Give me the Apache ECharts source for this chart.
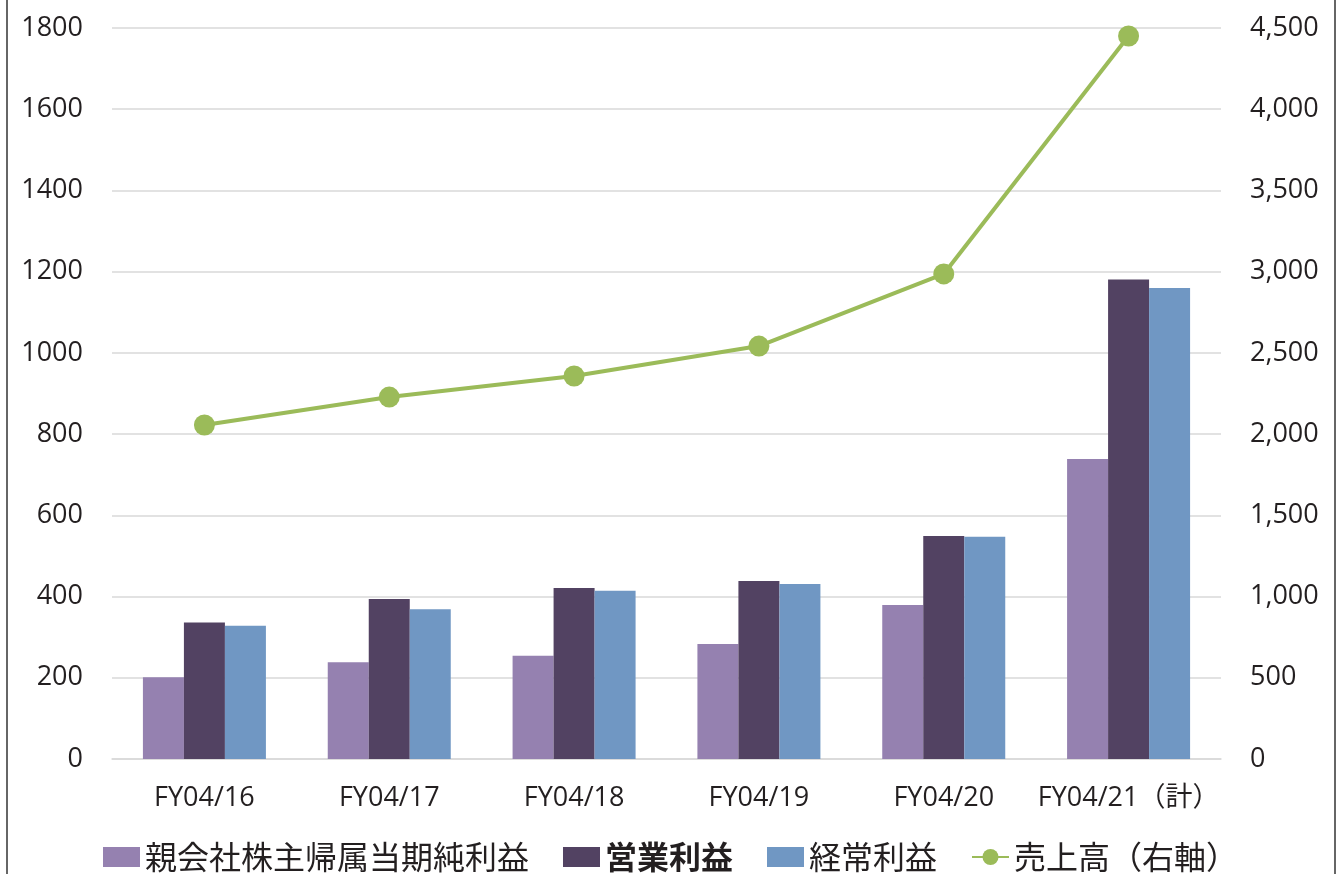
<!DOCTYPE html>
<html><head><meta charset="utf-8">
<script src="https://cdn.jsdelivr.net/npm/echarts@6/dist/echarts.min.js"></script>
<style>html,body{margin:0;padding:0;background:#fff}#c{width:1341px;height:874px}</style>
</head><body><div id="c"></div>
<script>
const categories = ['FY04/16','FY04/17','FY04/18','FY04/19','FY04/20','FY04/21（計）'];
const netIncome = [201, 238, 254, 283, 379, 739];
const operatingProfit = [336, 394, 421, 438, 549, 1181];
const ordinaryProfit = [328, 369, 414, 431, 547, 1160];
const sales = [2056, 2228, 2358, 2542, 2986, 4451];
const leftTicks = [0, 1800, 200];
const rightTicks = [0, 4500, 500];
const names = ['親会社株主帰属当期純利益','営業利益','経常利益','売上高（右軸）'];

const font = '"Open Sans", "Noto Sans CJK JP", sans-serif';
const cjk = '"Noto Sans CJK JP", sans-serif';
const chart = echarts.init(document.getElementById('c'));
chart.setOption({
  animation: false,
  backgroundColor: '#fff',
  grid: {left: 112, right: 120, top: 28, bottom: 115, containLabel: false},
  legend: {
    bottom: -4, left: 'center', itemGap: 34, itemWidth: 37, itemHeight: 20,
    textStyle: {fontFamily: cjk, fontSize: 32, color: '#231f20'},
    data: [
      {name: names[0], icon: 'rect'},
      {name: names[1], icon: 'rect', textStyle: {fontWeight: 'bold'}},
      {name: names[2], icon: 'rect'},
      {name: names[3]}
    ]
  },
  xAxis: {
    type: 'category', data: categories,
    axisLine: {show: true, lineStyle: {color: '#d9d9d9', width: 1.5}},
    axisTick: {show: false},
    axisLabel: {fontFamily: font, fontSize: 27, color: '#231f20', margin: 26, interval: 0}
  },
  yAxis: [
    {type: 'value', min: leftTicks[0], max: leftTicks[1], interval: leftTicks[2],
     axisLine: {show: false}, axisTick: {show: false},
     splitLine: {lineStyle: {color: '#d9d9d9', width: 1.5}},
     axisLabel: {fontFamily: font, fontSize: 27, color: '#231f20', margin: 29,
       formatter: v => String(v)}},
    {type: 'value', min: rightTicks[0], max: rightTicks[1], interval: rightTicks[2],
     axisLine: {show: false}, axisTick: {show: false}, splitLine: {show: false},
     axisLabel: {fontFamily: font, fontSize: 27, color: '#231f20', margin: 29,
       formatter: v => v.toLocaleString('en-US')}}
  ],
  series: [
    {name: names[0], type: 'bar', data: netIncome, barWidth: 41, barGap: '0%',
     itemStyle: {color: '#9581b0'}},
    {name: names[1], type: 'bar', data: operatingProfit, barWidth: 41,
     itemStyle: {color: '#524262'}},
    {name: names[2], type: 'bar', data: ordinaryProfit, barWidth: 41,
     itemStyle: {color: '#7097c3'}},
    {name: names[3], type: 'line', yAxisIndex: 1, data: sales,
     symbol: 'circle', symbolSize: 21,
     lineStyle: {color: '#9bbb59', width: 4},
     itemStyle: {color: '#9bbb59'}}
  ],
  graphic: [
    {type: 'line', shape: {x1: 7, y1: 0, x2: 7, y2: 874}, style: {stroke: '#333', lineWidth: 1.5}},
    {type: 'line', shape: {x1: 1335, y1: 0, x2: 1335, y2: 874}, style: {stroke: '#333', lineWidth: 1.5}}
  ]
});
</script></body></html>
